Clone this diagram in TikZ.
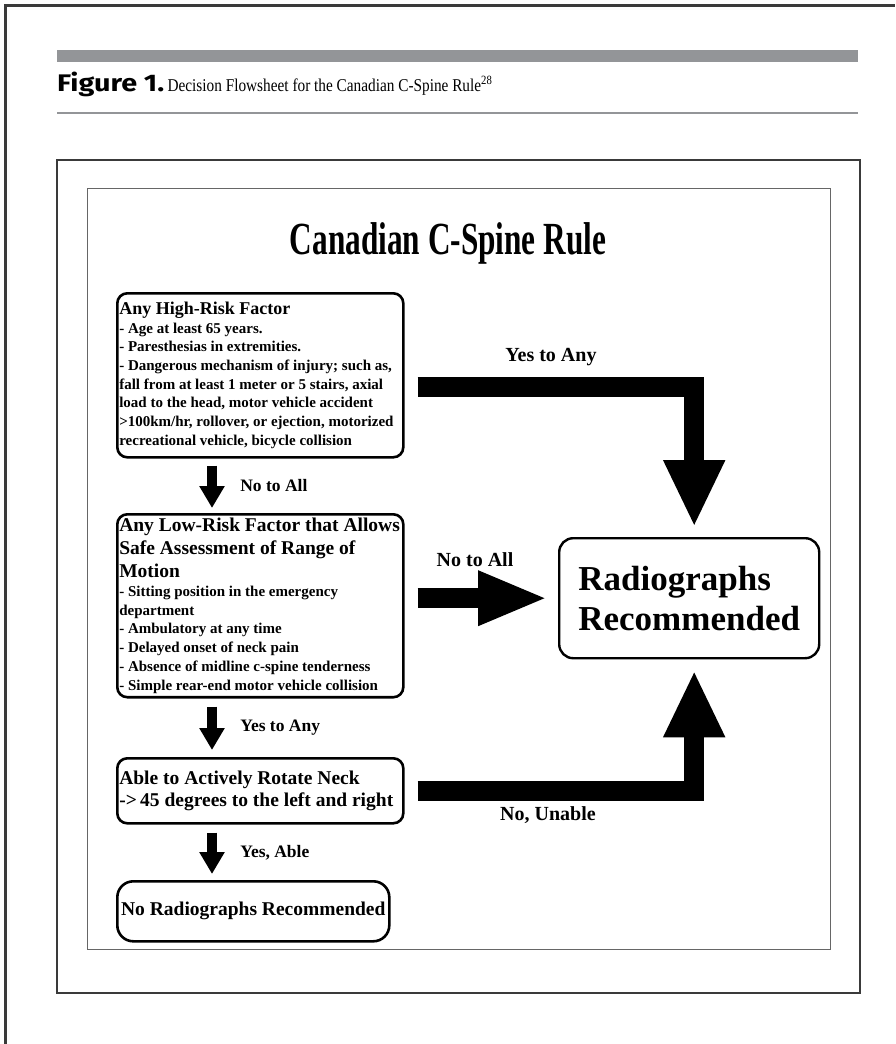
\documentclass[tikz,border=0pt]{standalone}
\usepackage{fontspec}
\setmainfont{Liberation Serif}
\newfontfamily\capsans{Fira Sans}[FakeStretch=1.2]
\newfontfamily\capserif{Liberation Serif}[FakeStretch=0.85]
\newfontfamily\titleserif{Liberation Serif}[FakeStretch=0.68]
\usetikzlibrary{arrows.meta, positioning}

\definecolor{bargray}{HTML}{939598}
\definecolor{framegray}{HTML}{3A3A3A}

\newcommand{\boxhead}[2]{{\fontsize{#1}{23}\selectfont #2}}

\tikzset{
  factorbox/.style={draw, line width=2.6pt, rounded corners=10pt, anchor=north west,
    align=flush left, inner xsep=2pt, inner ysep=4pt,
    font=\bfseries\fontsize{15}{18.7}\selectfont},
  steplabel/.style={font=\bfseries\fontsize{17.5}{20}\selectfont},
  sidelabel/.style={font=\bfseries\fontsize{20}{23}\selectfont},
  downarrow/.style={line width=10pt, -{Triangle[length=22pt, width=24pt]}},
  blockarrow/.style={line width=20pt, line join=miter, -{Triangle[length=67pt, width=57pt]}},
}

\begin{document}
\begin{tikzpicture}[x=1pt, y=-1pt]
  % page
  \fill[white] (0,0) rectangle (895,1044);
  \useasboundingbox (0,0) rectangle (895,1044);
  \draw[framegray, line width=3pt] (5,1044) -- (5,5) -- (895,5);

  % caption with its rules
  \fill[bargray] (57,50) rectangle (858,62);
  \node[anchor=base west, inner sep=0pt] (caption) at (57,91)
    {{\capsans\bfseries\fontsize{24}{27}\selectfont Figure 1.} {\capserif\fontsize{18}{21}\selectfont Decision Flowsheet for the Canadian C-Spine Rule\textsuperscript{28}}};
  \draw[bargray, line width=2pt] (57,113) -- (858,113);

  % figure frames
  \draw[framegray, line width=2pt] (57,160) rectangle (860,993);
  \draw[gray!80!black, line width=0.8pt] (87,188) rectangle (830,949);

  \node[font=\titleserif\bfseries\fontsize{46}{50}\selectfont, anchor=base] (title) at (448,254) {Canadian C-Spine Rule};

  % left column: the three questions
  \node[factorbox, text width=282pt, minimum height=164pt] (highrisk) at (116,292)
    {\boxhead{18}{Any High-Risk Factor}\\
     - Age at least 65 years.\\
     - Paresthesias in extremities.\\
     - Dangerous mechanism of injury; such as,\\
     fall from at least 1 meter or 5 stairs, axial\\
     load to the head, motor vehicle accident\\
     >100km/hr, rollover, or ejection, motorized\\
     recreational vehicle, bicycle collision};
  \node[factorbox, text width=282pt, minimum height=182pt] (lowrisk) at (116,513)
    {\boxhead{19.5}{Any Low-Risk Factor that Allows\\ Safe Assessment of Range of\\ Motion\\}
     - Sitting position in the emergency\\
     department\\
     - Ambulatory at any time\\
     - Delayed onset of neck pain\\
     - Absence of midline c-spine tenderness\\
     - Simple rear-end motor vehicle collision};
  \node[factorbox, text width=282pt, minimum height=65pt, font=\bfseries\fontsize{19.5}{22.5}\selectfont] (rotate) at (116,757)
    {Able to Actively Rotate Neck\\ ->\,45 degrees to the left and right};
  \node[factorbox, rounded corners=16pt, align=center, minimum width=272pt, minimum height=60pt,
    font=\bfseries\fontsize{19.5}{23}\selectfont] (noradio) at (116,880) {No Radiographs Recommended};

  % result
  \node[draw, line width=2.4pt, rounded corners=14pt, anchor=north west, align=left,
    minimum width=260pt, minimum height=120pt, font=\bfseries\fontsize{35}{40}\selectfont] (radio) at (558,537)
    {Radiographs\\ Recommended};

  % down arrows
  \coordinate (arrowx) at (212,0);
  \draw[downarrow, shorten <=7pt, shorten >=5pt] (highrisk.south -| arrowx) -- node[steplabel, right=20pt] (lblnoall) {No to All} (lowrisk.north -| arrowx);
  \draw[downarrow, shorten <=8pt, shorten >=7pt] (lowrisk.south -| arrowx) -- node[steplabel, right=20pt] (lblyesany) {Yes to Any} (rotate.north -| arrowx);
  \draw[downarrow, shorten <=8pt, shorten >=6pt] (rotate.south -| arrowx) -- node[steplabel, right=20pt] (lblable) {Yes, Able} (noradio.north -| arrowx);

  % block arrows to the result
  \draw[blockarrow, shorten <=13pt, shorten >=10pt] ([yshift=-12pt]highrisk.east) -| ([xshift=5pt]radio.north);
  \draw[blockarrow, -{Triangle[length=70pt, width=50pt]}, shorten <=13pt, shorten >=10pt] (lowrisk.east |- radio.west) -- (radio.west);
  \draw[blockarrow, shorten <=13pt, shorten >=11pt] (rotate.east) -| ([xshift=5pt]radio.south);
  \node[sidelabel] (lblhigh) at (551,357) {Yes to Any};
  \node[sidelabel] (lbllow) at (475,560) {No to All};
  \node[sidelabel] (lblunable) at (548,815) {No, Unable};
\end{tikzpicture}
\end{document}
